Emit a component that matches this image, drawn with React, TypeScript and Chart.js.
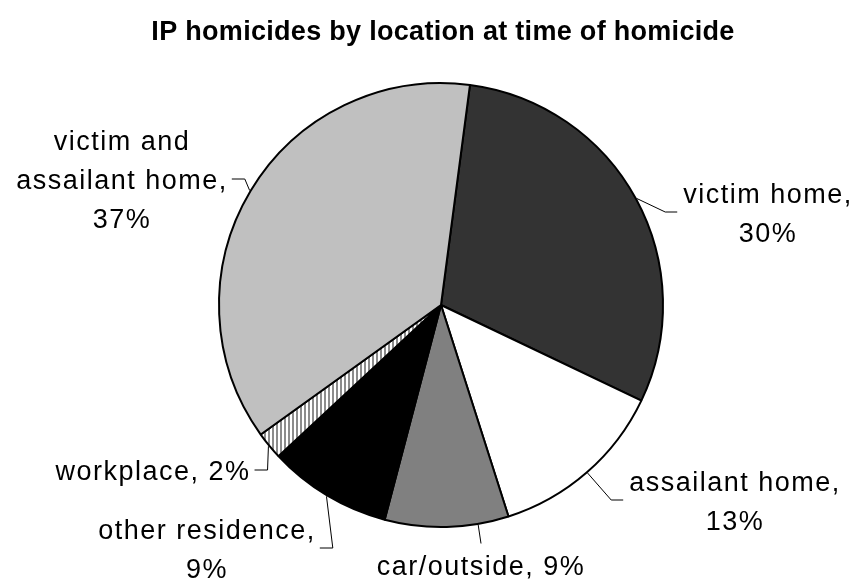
import React, { useEffect, useRef } from "react";
import { Chart, registerables } from "chart.js";
Chart.register(...registerables);

const TITLE = "IP homicides by location at time of homicide";
const CATEGORIES = [
  "victim home",
  "assailant home",
  "car/outside",
  "other residence",
  "workplace",
  "victim and\nassailant home",
];
const PERCENTS = [30, 13, 9, 9, 2, 37];
const FILLS = ["#333333", "#ffffff", "#808080", "#000000", "pattern", "#c0c0c0"];

// label placement (offset of label block centre from pie centre), leader attach side
const LABEL_LAYOUT = [
  { dx: 327, dy: -93, side: "left", pctLine: true, frac: 0.5 },
  { dx: 294, dy: 195, side: "left", pctLine: true, frac: 0.5 },
  { dx: 40, dy: 260, side: "top", pctLine: false, frac: 0.25 },
  { dx: -234, dy: 243, side: "right", pctLine: true, frac: 0.5 },
  { dx: -288, dy: 165, side: "right", pctLine: false, frac: 0.5 },
  { dx: -319, dy: -126, side: "right", pctLine: true, frac: 0.5 },
];

const FONT = "27px 'Liberation Sans', Arial, sans-serif";
const TITLE_FONT = "bold 27px 'Liberation Sans', Arial, sans-serif";
const LINE_H = 39;

function makePattern(): CanvasPattern | string {
  const c = document.createElement("canvas");
  c.width = 4;
  c.height = 4;
  const g = c.getContext("2d");
  if (!g) return "#cccccc";
  g.fillStyle = "#ffffff";
  g.fillRect(0, 0, 4, 4);
  g.fillStyle = "#8c8c8c";
  g.fillRect(0, 0, 2, 4);
  return g.createPattern(c, "repeat") || "#cccccc";
}

const labelPlugin = {
  id: "pieLabels",
  afterDraw(chart: any) {
    const ctx = chart.ctx as CanvasRenderingContext2D;
    const meta = chart.getDatasetMeta(0);
    const area = chart.chartArea;
    ctx.save();
    // title
    ctx.font = TITLE_FONT;
    (ctx as any).letterSpacing = "0.3px";
    ctx.fillStyle = "#000";
    ctx.textAlign = "center";
    ctx.textBaseline = "alphabetic";
    ctx.fillText(TITLE, (area.left + area.right) / 2 + 2, 40);

    ctx.font = FONT;
    (ctx as any).letterSpacing = "1.5px";
    meta.data.forEach((arc: any, i: number) => {
      const p = arc.getProps(["x", "y", "startAngle", "endAngle", "outerRadius"], true);
      const lay = LABEL_LAYOUT[i];
      const cat = CATEGORIES[i].split("\n");
      const pct = PERCENTS[i] + "%";
      let lines: string[];
      if (lay.pctLine) {
        lines = cat.slice();
        lines[lines.length - 1] = lines[lines.length - 1] + ",";
        lines.push(pct);
      } else {
        lines = cat.slice();
        lines[lines.length - 1] = lines[lines.length - 1] + ", " + pct;
      }
      const cx = p.x + lay.dx;
      const cy = p.y + lay.dy;
      const n = lines.length;
      let maxW = 0;
      lines.forEach((ln) => {
        maxW = Math.max(maxW, ctx.measureText(ln).width);
      });
      ctx.fillStyle = "#000";
      ctx.textAlign = "center";
      lines.forEach((ln, k) => {
        const yc = cy + (k - (n - 1) / 2) * LINE_H;
        ctx.fillText(ln, cx, yc + 10);
      });
      // leader line
      const a = p.startAngle + (p.endAngle - p.startAngle) * lay.frac;
      const r = p.outerRadius + 1;
      const ex = p.x + Math.cos(a) * r;
      const ey = p.y + Math.sin(a) * r;
      let ax: number, ay: number, bx: number, by: number;
      if (lay.side === "left") {
        ax = cx - maxW / 2 - 6;
        ay = cy;
        bx = ax - 12;
        by = ay;
      } else if (lay.side === "right") {
        ax = cx + maxW / 2 + 4;
        ay = cy;
        bx = ax + 13;
        by = ay;
      } else {
        ax = cx;
        ay = cy - (n * LINE_H) / 2 - 2;
        bx = ax;
        by = ay;
      }
      ctx.strokeStyle = "#000";
      ctx.lineWidth = 1;
      ctx.beginPath();
      ctx.moveTo(ex, ey);
      ctx.lineTo(bx, by);
      ctx.lineTo(ax, ay);
      ctx.stroke();
    });
    ctx.restore();
  },
};

export default function App() {
  const ref = useRef<HTMLCanvasElement | null>(null);
  useEffect(() => {
    if (!ref.current) return;
    const pattern = makePattern();
    const colors = FILLS.map((f) => (f === "pattern" ? pattern : f));
    const chart = new Chart(ref.current, {
      type: "pie",
      data: {
        labels: CATEGORIES,
        datasets: [
          {
            data: PERCENTS,
            backgroundColor: colors as any,
            borderColor: "#000000",
            borderWidth: 2,
            hoverOffset: 0,
          },
        ],
      },
      options: {
        responsive: false,
        animation: false,
        rotation: 7.5,
        layout: { padding: { top: 82, bottom: 53, left: 218, right: 190 } },
        plugins: {
          legend: { display: false },
          title: { display: false },
          tooltip: { enabled: false },
        },
      },
      plugins: [labelPlugin],
    });
    return () => chart.destroy();
  }, []);
  return (
    <div style={{ position: "fixed", left: 0, top: 0, width: 854, height: 581, background: "#fff" }}>
      <canvas ref={ref} width={854} height={581} style={{ display: "block" }} />
    </div>
  );
}
